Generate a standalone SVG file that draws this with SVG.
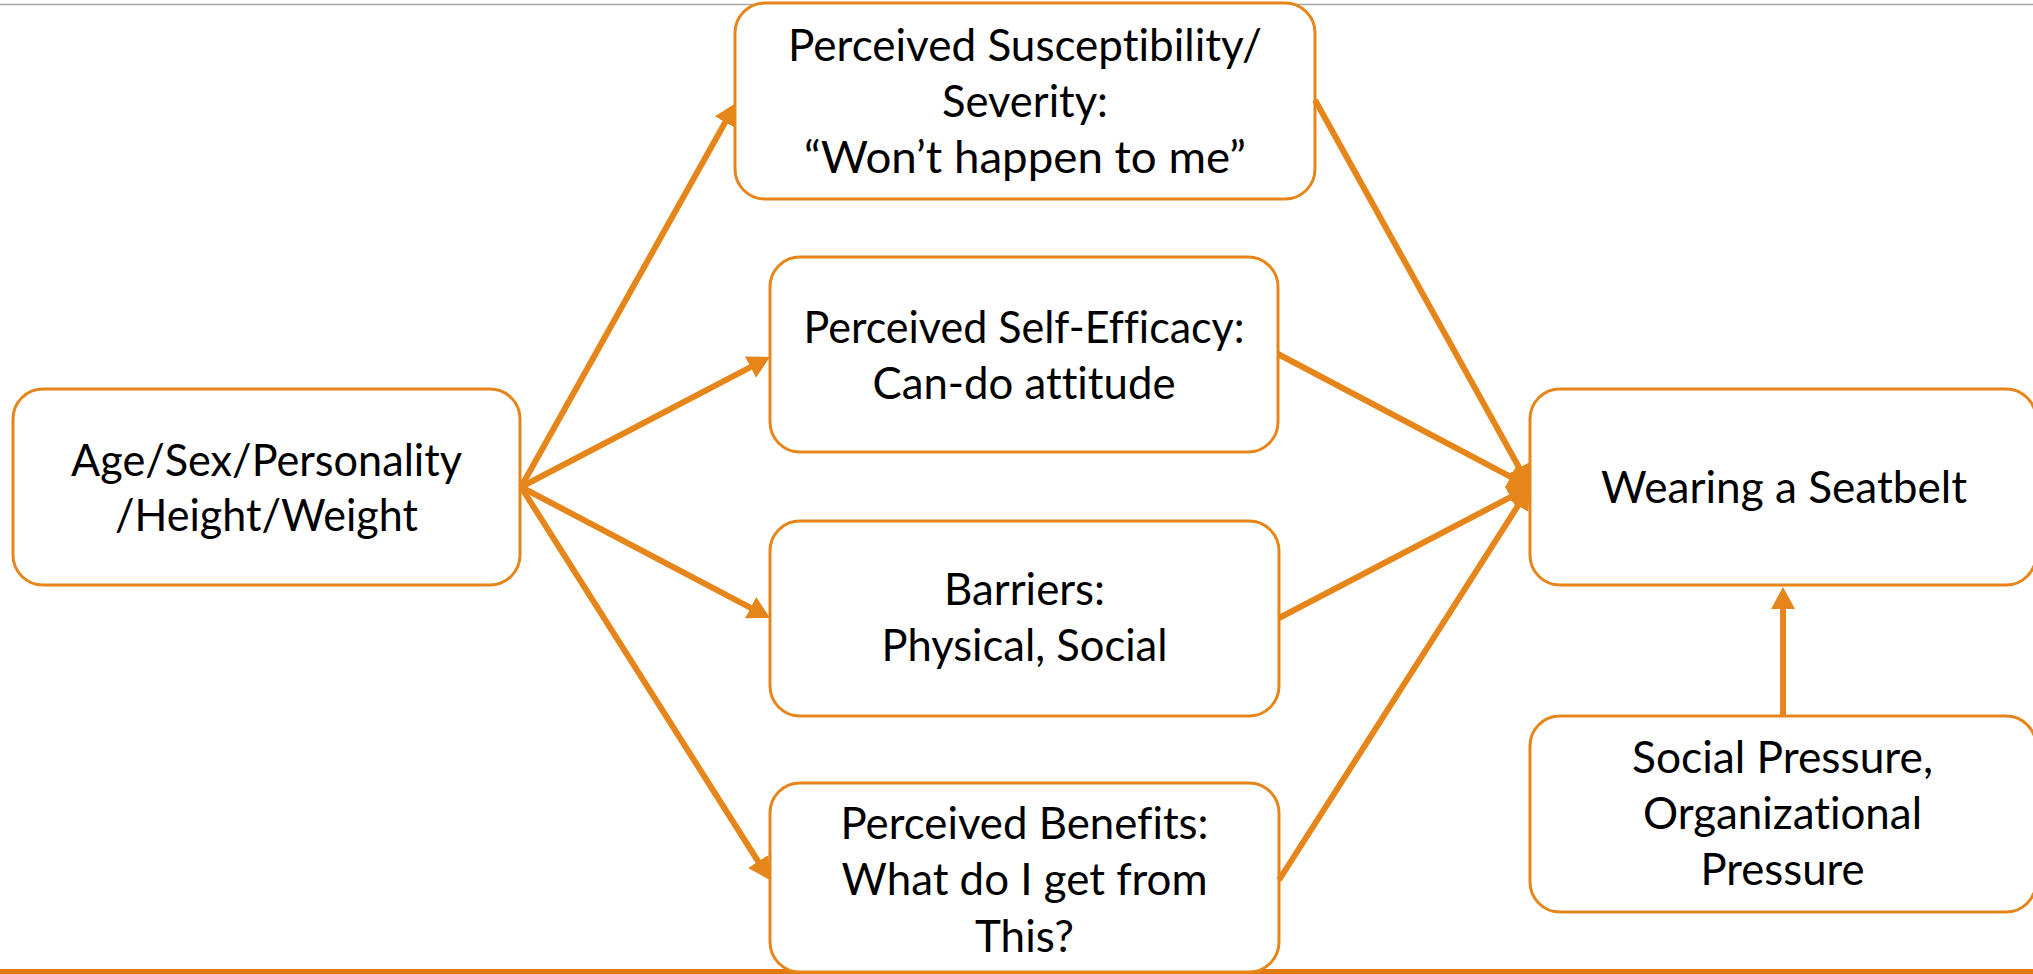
<svg xmlns="http://www.w3.org/2000/svg" width="2033" height="974" viewBox="0 0 2033 974">
<style>
.box{fill:#ffffff;stroke:#E6861A;stroke-width:3}
.t{font-family:Lato,"Liberation Sans",sans-serif;font-size:45px;fill:#000000;text-anchor:middle;font-variant-ligatures:none;font-feature-settings:"liga" 0,"clig" 0}
.c{stroke:#E6861A;stroke-width:6;fill:none;marker-end:url(#ah)}
</style>
<defs>
<marker id="ah" markerUnits="userSpaceOnUse" markerWidth="22" markerHeight="24" refX="12" refY="12" orient="auto" viewBox="0 0 22 24">
<path d="M0,0 L22,12 L0,24 z" fill="#E6861A"/>
</marker>
</defs>
<rect x="0" y="0" width="2033" height="974" fill="#ffffff"/>
<line x1="0" y1="4.5" x2="2033" y2="4.5" stroke="#A6A6A6" stroke-width="1.5"/>
<rect x="0" y="969" width="2033" height="5" fill="#E07B12"/>

<g id="node-demographics">
<rect class="box" x="13" y="389" width="507" height="196" rx="30" ry="30"/>
<text class="t" x="266.5" y="475.5" textLength="391" lengthAdjust="spacingAndGlyphs">Age/Sex/Personality</text>
<text class="t" x="266.5" y="531" textLength="303" lengthAdjust="spacingAndGlyphs">/Height/Weight</text>
</g>

<g id="node-susceptibility">
<rect class="box" x="735" y="3" width="580" height="196" rx="30" ry="30"/>
<text class="t" x="1025" y="61" textLength="474" lengthAdjust="spacingAndGlyphs">Perceived Susceptibility/</text>
<text class="t" x="1025" y="117" textLength="166" lengthAdjust="spacingAndGlyphs">Severity:</text>
<text class="t" x="1025" y="173" textLength="442" lengthAdjust="spacingAndGlyphs">“Won’t happen to me”</text>
</g>

<g id="node-selfefficacy">
<rect class="box" x="770" y="257" width="508" height="195" rx="30" ry="30"/>
<text class="t" x="1024" y="343" textLength="441" lengthAdjust="spacingAndGlyphs">Perceived Self-Efficacy:</text>
<text class="t" x="1024" y="399" textLength="303" lengthAdjust="spacingAndGlyphs">Can-do attitude</text>
</g>

<g id="node-barriers">
<rect class="box" x="770" y="521" width="509" height="195" rx="30" ry="30"/>
<text class="t" x="1024.5" y="605" textLength="161" lengthAdjust="spacingAndGlyphs">Barriers:</text>
<text class="t" x="1024.5" y="661" textLength="286" lengthAdjust="spacingAndGlyphs">Physical, Social</text>
</g>

<g id="node-benefits">
<rect class="box" x="770" y="783" width="509" height="189" rx="30" ry="30"/>
<text class="t" x="1024.5" y="839" textLength="368" lengthAdjust="spacingAndGlyphs">Perceived Benefits:</text>
<text class="t" x="1024.5" y="895" textLength="366" lengthAdjust="spacingAndGlyphs">What do I get from</text>
<text class="t" x="1024.5" y="952" textLength="99" lengthAdjust="spacingAndGlyphs">This?</text>
</g>

<g id="node-seatbelt">
<rect class="box" x="1530" y="389" width="506" height="196" rx="30" ry="30"/>
<text class="t" x="1784" y="503" textLength="366" lengthAdjust="spacingAndGlyphs">Wearing a Seatbelt</text>
</g>

<g id="node-pressure">
<rect class="box" x="1530" y="716" width="506" height="196" rx="30" ry="30"/>
<text class="t" x="1782.5" y="773" textLength="301" lengthAdjust="spacingAndGlyphs">Social Pressure,</text>
<text class="t" x="1782.5" y="829" textLength="279" lengthAdjust="spacingAndGlyphs">Organizational</text>
<text class="t" x="1782.5" y="885" textLength="164" lengthAdjust="spacingAndGlyphs">Pressure</text>
</g>

<g id="connectors">
<line class="c" x1="521" y1="487" x2="731.1" y2="111.7"/>
<line class="c" x1="521" y1="487" x2="761.1" y2="361.6"/>
<line class="c" x1="521" y1="487" x2="761.2" y2="613.3"/>
<line class="c" x1="521" y1="487" x2="764.6" y2="871.6"/>
<line class="c" x1="1315" y1="100" x2="1525.1" y2="478.3"/>
<line class="c" x1="1278" y1="354" x2="1521.2" y2="482.3"/>
<line class="c" x1="1279" y1="618" x2="1521.1" y2="491.6"/>
<line class="c" x1="1279" y1="880" x2="1524.6" y2="495.4"/>
<line class="c" x1="1783" y1="716" x2="1783" y2="597"/>
</g>
</svg>
